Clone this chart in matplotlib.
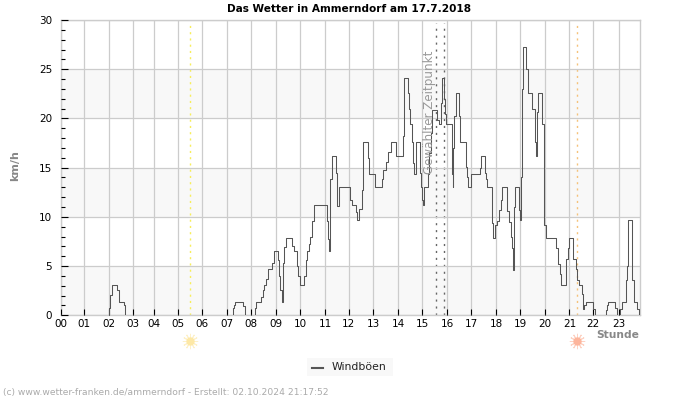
import numpy as np
import matplotlib
matplotlib.use("Agg")
import matplotlib.pyplot as plt
from matplotlib.patches import Rectangle
from matplotlib.transforms import blended_transform_factory

nan = np.nan

# tick positions (the hour grid of the original is slightly uneven)
hour_ticks = [0, 0.97, 1.99, 2.97, 3.83, 4.82, 5.81, 6.82, 7.80, 8.83, 9.82, 10.83,
              11.81, 12.81, 13.83, 14.82, 15.84, 16.82, 17.85, 18.83, 19.83, 20.84, 21.82, 22.86]
hour_labels = ["%02d" % h for h in range(24)]

sunrise = 5.32
sunset = 21.17
selected = [15.39, 15.69]

# Windboeen, values start at the given time and hold until the next one
gust_time = [1.98, 1.99, 2.03, 2.09, 2.33, 2.40, 2.59, 2.65, 2.66,
             7.06, 7.07, 7.11, 7.15, 7.49, 7.57, 7.58,
             7.96, 7.97, 8.02, 8.21, 8.29, 8.35, 8.43, 8.50, 8.66, 8.73,
             8.91, 8.96, 9.00, 9.07, 9.11, 9.17, 9.25, 9.48, 9.58, 9.67,
             9.73, 9.80, 9.97, 10.04, 10.08, 10.16, 10.23, 10.31, 10.38, 10.93,
             10.97, 11.00, 11.04, 11.11, 11.29, 11.31, 11.42, 11.86, 11.93, 12.09,
             12.16, 12.23, 12.34, 12.38, 12.40, 12.61, 12.65, 12.88, 13.15, 13.22,
             13.32, 13.43, 13.52, 13.74, 14.04, 14.08, 14.24, 14.28, 14.32, 14.38,
             14.44, 14.49, 14.56, 14.72, 14.76, 14.79, 14.83, 14.88, 15.06, 15.10,
             15.16, 15.22, 15.40, 15.51, 15.57, 15.61, 15.69, 15.73, 15.77, 16.02,
             16.06, 16.08, 16.12, 16.18, 16.32, 16.36, 16.59, 16.64, 16.70, 16.79,
             17.18, 17.23, 17.38, 17.43, 17.48, 17.65, 17.73, 17.80, 17.87, 17.95,
             18.02, 18.08, 18.27, 18.38, 18.45, 18.50, 18.51, 18.55, 18.60, 18.76,
             18.83, 18.85, 18.90, 18.92, 19.06, 19.15, 19.32, 19.43, 19.48, 19.52,
             19.56, 19.73, 19.81, 19.88, 19.90, 20.27, 20.38, 20.44, 20.50, 20.68,
             20.78, 20.83, 21.00, 21.10, 21.17, 21.24, 21.34, 21.39, 21.45, 21.50,
             21.81, 21.90, 21.91,
             22.31, 22.32, 22.36, 22.40, 22.69, 22.78, 22.79,
             22.92, 22.93, 23.00, 23.16, 23.19, 23.23, 23.41, 23.50, 23.59, 23.67, 23.68]
gust_value = [0, 0.7, 2.1, 3.1, 2.6, 1.4, 1.0, 0, nan,
              0, 0.7, 1.0, 1.4, 0.9, 0, nan,
              0, 0.7, 1.4, 1.9, 2.6, 3.1, 3.7, 4.7, 5.3, 6.5,
              5.6, 4.0, 2.6, 1.4, 5.3, 6.9, 7.9, 7.0, 6.5, 5.0,
              4.0, 3.1, 4.0, 5.6, 6.5, 7.2, 8.0, 9.6, 11.2, 9.6,
              7.8, 6.5, 13.8, 16.2, 14.5, 11.1, 13.0, 11.7, 11.2, 10.5,
              9.7, 10.8, 12.7, 16.0, 17.6, 16.0, 14.4, 13.0, 13.8, 14.8,
              15.6, 16.6, 17.6, 16.2, 18.2, 24.1, 22.6, 21.0, 19.4, 17.6,
              15.5, 14.4, 17.6, 14.5, 13.0, 11.7, 11.2, 13.0, 14.4, 16.5,
              18.5, 20.9, 19.8, 19.4, 21.6, 24.1, 22.0, 20.5, 19.4, 14.4,
              13.0, 17.0, 20.2, 22.6, 20.2, 17.6, 15.1, 14.0, 13.0, 14.4,
              15.0, 16.2, 14.5, 13.8, 13.0, 9.4, 7.9, 9.2, 9.6, 10.7,
              11.7, 13.0, 10.6, 9.5, 8.0, 6.8, 4.6, 11.0, 13.0, 10.7,
              9.7, 14.1, 23.0, 27.3, 25.0, 22.6, 21.0, 17.6, 16.2, 20.7,
              22.6, 19.4, 9.2, 8.3, 7.9, 6.8, 5.2, 4.2, 3.1, 5.7,
              6.8, 7.9, 5.7, 4.7, 3.6, 3.1, 2.2, 0.6, 1.0, 1.4,
              0.6, 0, nan,
              0, 0.5, 1.0, 1.4, 0.7, 0, nan,
              0, 0.6, 1.4, 3.6, 5.0, 9.7, 3.6, 1.4, 0.6, 0, nan]

fig = plt.figure(figsize=(7, 4), dpi=100)
ax = fig.add_axes([60.5 / 700, 1 - 315.3 / 400, 579.5 / 700, 295.3 / 400])

# alternating bands
for low in [0, 10, 20]:
    ax.axhspan(low, low + 5, color="#f8f8f8", lw=0, zorder=0)

ax.set_xlim(0, 23.73)
ax.set_ylim(0, 30)
ax.set_xticks(hour_ticks)
ax.set_xticklabels(hour_labels)
ax.set_yticks(range(0, 31, 5))
ax.set_yticks(range(0, 31), minor=True)
ax.grid(True, which="major", color="#cccccc", lw=0.9, zorder=1)
ax.tick_params(axis="x", direction="in", length=4, width=0.8, labelsize=7.5, pad=3, color="black")
ax.tick_params(axis="y", which="major", direction="in", length=5, width=0.8, labelsize=7.5, pad=6)
ax.tick_params(axis="y", which="minor", direction="in", length=3, width=0.8)
for s in ax.spines.values():
    s.set_color("#cccccc")
    s.set_linewidth(1)
ax.set_axisbelow(False)

ax.axvline(sunrise, ymin=0, ymax=0.99, color="#f7ee5a", lw=1, ls=(0, (1.5, 3)), zorder=2)
ax.axvline(sunset, ymin=0, ymax=0.99, color="#f5c27a", lw=1, ls=(0, (1.5, 3)), zorder=2)
for t in selected:
    ax.axvline(t, ymin=0, ymax=0.99, color="#666666", lw=1, ls=(0, (1.5, 3.5)), zorder=2)

ax.plot(gust_time, gust_value, drawstyle="steps-post", color="#555555", lw=0.75, zorder=3)

ax.text(15.1, 14.4, "Gewählter Zeitpunkt", rotation=90, color="#999999", fontsize=8.6,
        ha="center", va="bottom", zorder=4)

# sun symbols below the axis
trans = blended_transform_factory(ax.transData, fig.transFigure)
for t, col in [(sunrise, "#fde8a6"), (sunset, "#fdb59c")]:
    ax.plot([t], [1 - 341 / 400], marker=(12, 2, 0), ms=11, mew=0.7, color=col, alpha=0.6,
            transform=trans, clip_on=False)
    ax.plot([t], [1 - 341 / 400], marker="o", ms=6, color=col, mew=0, transform=trans, clip_on=False)

fig.text(349.5 / 700, 1 - 9 / 400, "Das Wetter in Ammerndorf am 17.7.2018", fontsize=7.6, fontweight="bold",
         ha="center", va="center")
fig.text(15.5 / 700, 1 - 166 / 400, "km/h", fontsize=8, fontweight="bold", color="#888888",
         rotation=90, ha="center", va="center")
fig.text(639 / 700, 1 - 334.5 / 400, "Stunde", fontsize=7.7, fontweight="bold", color="#888888",
         ha="right", va="center")
fig.text(3 / 700, 1 - 393 / 400, "(c) www.wetter-franken.de/ammerndorf - Erstellt: 02.10.2024 21:17:52",
         fontsize=6.6, color="#aaaaaa", ha="left", va="center")

# legend box
fig.add_artist(Rectangle((307 / 700, 1 - 376 / 400), 86 / 700, 18 / 400, transform=fig.transFigure,
                         color="#f8f8f8", lw=0))
fig.add_artist(plt.Line2D([312 / 700, 323 / 700], [1 - 367.5 / 400] * 2, color="#555555", lw=1.5,
                          transform=fig.transFigure))
fig.text(332 / 700, 1 - 366.5 / 400, "Windböen", fontsize=7.8, color="#222222", ha="left", va="center")

fig.savefig("out.png", dpi=100)
